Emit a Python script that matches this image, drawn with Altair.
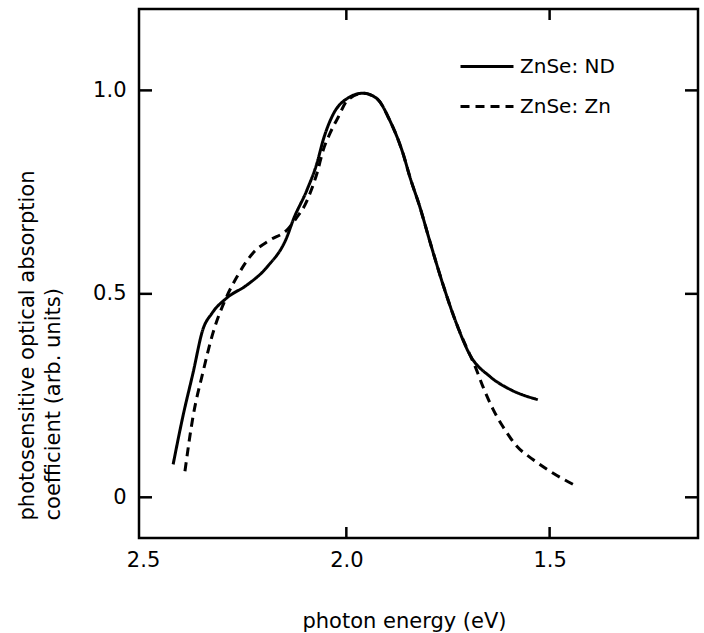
import altair as alt
import pandas as pd

# ---- data ----
series_names = ["ZnSe: ND", "ZnSe: Zn"]

nd_energy = [2.426, 2.402, 2.377, 2.353, 2.330, 2.294, 2.244, 2.195, 2.146, 2.131,
             2.097, 2.072, 2.057, 2.033, 1.998, 1.959, 1.925, 1.893, 1.861, 1.843,
             1.819, 1.794, 1.762, 1.728, 1.696, 1.647, 1.597, 1.529]
nd_coef = [0.081, 0.199, 0.306, 0.412, 0.453, 0.490, 0.522, 0.566, 0.640, 0.681,
           0.755, 0.822, 0.878, 0.940, 0.980, 0.993, 0.980, 0.926, 0.846, 0.785,
           0.713, 0.627, 0.522, 0.424, 0.350, 0.297, 0.265, 0.240]

zn_energy = [2.397, 2.377, 2.353, 2.328, 2.298, 2.269, 2.230, 2.188, 2.146, 2.121,
             2.102, 2.089, 2.072, 2.057, 2.040, 2.020, 1.998, 1.959, 1.925, 1.893,
             1.861, 1.843, 1.819, 1.794, 1.762, 1.728, 1.696, 1.683, 1.664, 1.639,
             1.615, 1.580, 1.541, 1.499, 1.433]
zn_coef = [0.064, 0.199, 0.306, 0.404, 0.485, 0.542, 0.600, 0.632, 0.657, 0.689,
           0.718, 0.748, 0.797, 0.853, 0.895, 0.934, 0.975, 0.993, 0.980, 0.926,
           0.846, 0.785, 0.713, 0.627, 0.522, 0.424, 0.350, 0.321, 0.272, 0.216,
           0.174, 0.125, 0.093, 0.064, 0.027]

x_label_values = [2.5, 2.0, 1.5]
x_inner_ticks = [2.0, 1.5]
y_tick_values = [0, 0.5, 1.0]

x_title = "photon energy (eV)"
y_title = ["photosensitive optical absorption", "coefficient (arb. units)"]

# ---- tables ----
df = pd.concat([
    pd.DataFrame({"energy": nd_energy, "coef": nd_coef, "series": series_names[0]}),
    pd.DataFrame({"energy": zn_energy, "coef": zn_coef, "series": series_names[1]}),
], ignore_index=True)
xt = pd.DataFrame({"energy": x_inner_ticks})
yt = pd.DataFrame({"coef": y_tick_values})

W, H = 559, 529
FONT = "DejaVu Sans"

x_scale = alt.Scale(domain=[2.51, 1.135], nice=False, zero=False)
y_scale = alt.Scale(domain=[-0.1, 1.2], nice=False, zero=False)

x_axis = alt.Axis(values=x_label_values, format=".1f", ticks=False, domain=False, grid=False,
                  labelFontSize=21, labelFont=FONT, labelColor="black", labelPadding=11,
                  title=x_title, titleFont=FONT, titleFontSize=21, titleFontWeight="normal",
                  titleColor="black", titleAlign="center", titleBaseline="alphabetic",
                  titleX=265, titleY=89)
y_axis = alt.Axis(values=y_tick_values, ticks=False, domain=False, grid=False,
                  labelExpr="datum.value == 0 ? '0' : format(datum.value, '.1f')",
                  labelFontSize=21, labelFont=FONT, labelColor="black", labelPadding=13,
                  title=y_title, titleFont=FONT, titleFontSize=21, titleFontWeight="normal",
                  titleColor="black", titleAngle=270, titleAlign="left",
                  titleBaseline="alphabetic", titleLineHeight=26,
                  titleX=-106, titleY=511)

lines = alt.Chart(df).mark_line(color="black", strokeWidth=3, interpolate="monotone").encode(
    x=alt.X("energy:Q", scale=x_scale, axis=x_axis),
    y=alt.Y("coef:Q", scale=y_scale, axis=y_axis),
    strokeDash=alt.StrokeDash(
        "series:N",
        scale=alt.Scale(domain=series_names, range=[[1, 0], [9, 6]]),
        legend=alt.Legend(title=None, orient="none", legendX=320, legendY=47, padding=0,
                          symbolType="stroke", symbolSize=2809, symbolStrokeWidth=3,
                          symbolStrokeColor="black", labelFontSize=20, labelFont=FONT,
                          labelColor="black", labelOffset=5, clipHeight=21, rowPadding=19,
                          labelLimit=300),
    ),
    order=alt.Order("energy:Q", sort="descending"),
)

tick_style = dict(color="black", strokeWidth=2.5)
top_ticks = alt.Chart(xt).mark_rule(**tick_style).encode(
    x=alt.X("energy:Q", scale=x_scale, axis=x_axis), y=alt.value(0), y2=alt.value(11))
bottom_ticks = alt.Chart(xt).mark_rule(**tick_style).encode(
    x=alt.X("energy:Q", scale=x_scale, axis=x_axis), y=alt.value(H), y2=alt.value(H - 11))
left_ticks = alt.Chart(yt).mark_rule(**tick_style).encode(
    y=alt.Y("coef:Q", scale=y_scale, axis=y_axis), x=alt.value(0), x2=alt.value(13))
right_ticks = alt.Chart(yt).mark_rule(**tick_style).encode(
    y=alt.Y("coef:Q", scale=y_scale, axis=y_axis), x=alt.value(W), x2=alt.value(W - 13))

chart = alt.layer(lines, top_ticks, bottom_ticks, left_ticks, right_ticks).properties(
    width=W, height=H,
    padding={"left": 139, "top": 9, "right": 6, "bottom": 95},
    autosize=alt.AutoSizeParams(type="none"),
    background="white",
).configure_view(stroke="black", strokeWidth=2.5)

chart.save("out.html", embed_options={"renderer": "svg", "actions": False})
